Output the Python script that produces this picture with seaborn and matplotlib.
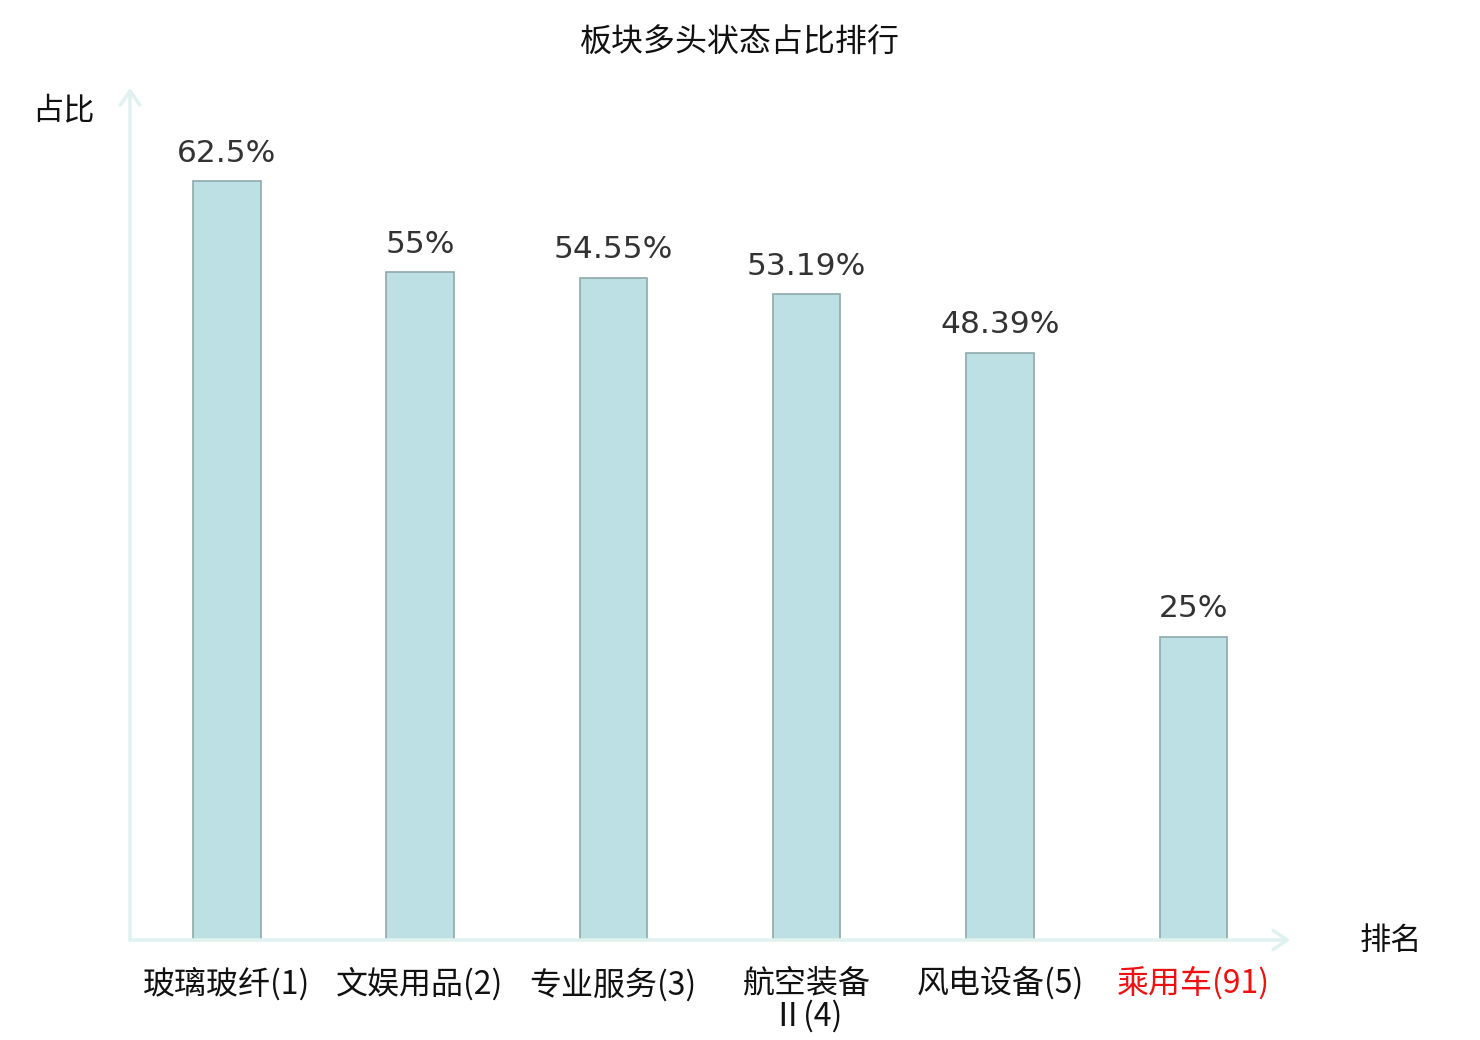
import matplotlib
matplotlib.use("Agg")
import matplotlib.pyplot as plt
import seaborn as sns
import pandas as pd

categories = ["玻璃玻纤(1)", "文娱用品(2)", "专业服务(3)", "航空装备\nⅡ(4)", "风电设备(5)", "乘用车(91)"]
values = [62.5, 55, 54.55, 53.19, 48.39, 25]
value_labels = ["62.5%", "55%", "54.55%", "53.19%", "48.39%", "25%"]
label_colors = ["#111111", "#111111", "#111111", "#111111", "#111111", "#ee1111"]

sns.set_theme(style="white")
cjk = ["Noto Sans CJK SC", "DejaVu Sans"]
plt.rcParams["font.family"] = cjk

df = pd.DataFrame({"cat": categories, "val": values})

fig = plt.figure(figsize=(14.8, 10.4), dpi=100)
ax = fig.add_axes([130 / 1480, 1 - 940 / 1040, 1160 / 1480, (940 - 88) / 1040])

sns.barplot(data=df, x="cat", y="val", ax=ax, color="#bce0e3", width=0.35,
            edgecolor="#8fa9ab", linewidth=1.2, saturation=1)

ax.set_xlim(-0.5, 5.5)
ax.set_ylim(0, 70.2)
for s in ax.spines.values():
    s.set_visible(False)
ax.set_yticks([])
ax.set_xlabel("")
ax.set_ylabel("")
ax.tick_params(axis="x", length=0, pad=20)
ax.set_xticks(range(len(categories)))
ax.set_xticklabels(categories, fontsize=23, linespacing=1.0, va="top")
for t, c in zip(ax.get_xticklabels(), label_colors):
    t.set_color(c)

for i, (v, lab) in enumerate(zip(values, value_labels)):
    ax.annotate(lab, (i, v), xytext=(0, 10), textcoords="offset points",
                ha="center", va="bottom", fontsize=22.5, color="#333333",
                family="DejaVu Sans")

arrow_color = "#dff2ef"
ax.annotate("", xy=(0, 1.0), xytext=(0, 0), xycoords="axes fraction",
            arrowprops=dict(arrowstyle="->,head_length=0.5,head_width=0.35",
                            color=arrow_color, lw=2.5, mutation_scale=20,
                            shrinkA=0, shrinkB=0), annotation_clip=False)
ax.annotate("", xy=(1.0, 0), xytext=(0, 0), xycoords="axes fraction",
            arrowprops=dict(arrowstyle="->,head_length=0.5,head_width=0.35",
                            color=arrow_color, lw=2.5, mutation_scale=20,
                            shrinkA=0, shrinkB=0), annotation_clip=False)

fig.text(740 / 1480, 1 - 43 / 1040, "板块多头状态占比排行", ha="center", va="center",
         fontsize=23, color="#111111")
fig.text(63 / 1480, 1 - 110 / 1040, "占比", ha="center", va="center",
         fontsize=22.5, color="#111111")
fig.text(1391 / 1480, 1 - 941 / 1040, "排名", ha="center", va="center",
         fontsize=22.5, color="#111111")

fig.savefig("out.png", dpi=100, facecolor="white")
